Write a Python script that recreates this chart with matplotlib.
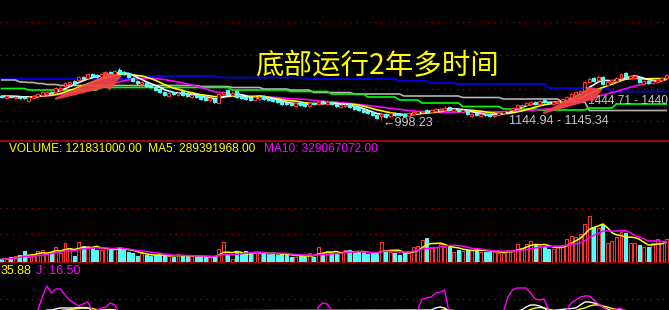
import numpy as np
import pandas as pd
import matplotlib
matplotlib.use("Agg")
import matplotlib.pyplot as plt
from matplotlib.patches import Rectangle, Polygon
from matplotlib.transforms import IdentityTransform

# ---------------------------------------------------------
# DATA (one value per trading day)
# ---------------------------------------------------------
opens = [
    1245, 1225, 1240, 1225, 1235, 1230, 1195, 1225, 1245, 1255,
    1265, 1285, 1285, 1305, 1340, 1360, 1395, 1400, 1430, 1425,
    1465, 1450, 1435, 1445, 1485, 1465, 1505, 1480, 1470, 1420,
    1395, 1360, 1370, 1350, 1330, 1315, 1285, 1245, 1280, 1250,
    1290, 1260, 1230, 1255, 1245, 1230, 1200, 1215, 1170, 1260,
    1300, 1255, 1295, 1245, 1230, 1220, 1205, 1215, 1240, 1225,
    1210, 1200, 1190, 1175, 1170, 1145, 1180, 1165, 1140, 1175,
    1160, 1195, 1160, 1185, 1165, 1130, 1140, 1165, 1140, 1125,
    1110, 1095, 1080, 1055, 1040, 1065, 1040, 1075, 1065, 1060,
    1045, 1065, 1075, 1080, 1100, 1080, 1095, 1100, 1105, 1130,
    1095, 1115, 1080, 1100, 1045, 1070, 1045, 1065, 1060, 1040,
    1055, 1070, 1090, 1105, 1125, 1140, 1150, 1165, 1185, 1165,
    1200, 1185, 1165, 1180, 1190, 1205, 1235, 1255, 1275, 1290,
    1380, 1420, 1400, 1435, 1350, 1380, 1395, 1425, 1470, 1425,
    1420, 1420, 1360, 1395, 1370, 1385, 1400, 1425,
]
closes = [
    1235, 1240, 1230, 1235, 1225, 1220, 1230, 1245, 1260, 1280,
    1280, 1270, 1320, 1325, 1370, 1380, 1370, 1430, 1410, 1460,
    1440, 1430, 1460, 1480, 1465, 1490, 1475, 1460, 1430, 1390,
    1370, 1380, 1340, 1335, 1305, 1280, 1255, 1275, 1260, 1275,
    1255, 1240, 1255, 1230, 1215, 1205, 1220, 1180, 1260, 1280,
    1265, 1275, 1230, 1220, 1210, 1200, 1230, 1235, 1210, 1200,
    1190, 1180, 1165, 1160, 1150, 1170, 1155, 1145, 1170, 1160,
    1185, 1170, 1180, 1160, 1140, 1150, 1155, 1130, 1110, 1100,
    1080, 1070, 1050, 1025, 1060, 1035, 1070, 1055, 1050, 1045,
    1070, 1080, 1090, 1095, 1085, 1100, 1110, 1115, 1125, 1100,
    1110, 1090, 1100, 1065, 1060, 1050, 1060, 1050, 1045, 1055,
    1070, 1090, 1110, 1125, 1150, 1155, 1170, 1180, 1165, 1190,
    1180, 1170, 1180, 1195, 1210, 1235, 1265, 1280, 1295, 1380,
    1415, 1390, 1430, 1360, 1380, 1400, 1425, 1460, 1435, 1440,
    1445, 1380, 1390, 1370, 1395, 1400, 1420, 1455,
]
highs = [
    1255, 1250, 1250, 1245, 1245, 1240, 1240, 1255, 1270, 1290,
    1295, 1295, 1330, 1340, 1380, 1395, 1405, 1440, 1440, 1470,
    1475, 1460, 1470, 1490, 1495, 1500, 1520, 1490, 1480, 1430,
    1400, 1395, 1380, 1360, 1340, 1320, 1295, 1290, 1290, 1285,
    1300, 1270, 1265, 1260, 1250, 1240, 1230, 1225, 1275, 1290,
    1305, 1290, 1300, 1255, 1240, 1230, 1245, 1245, 1250, 1235,
    1220, 1210, 1195, 1185, 1175, 1180, 1190, 1175, 1180, 1185,
    1200, 1200, 1195, 1195, 1175, 1160, 1165, 1170, 1150, 1130,
    1120, 1105, 1090, 1060, 1070, 1075, 1080, 1085, 1075, 1070,
    1080, 1090, 1100, 1105, 1110, 1110, 1120, 1125, 1140, 1135,
    1120, 1120, 1110, 1105, 1070, 1075, 1070, 1070, 1065, 1065,
    1080, 1095, 1115, 1135, 1160, 1165, 1180, 1190, 1195, 1200,
    1210, 1195, 1190, 1205, 1220, 1245, 1275, 1290, 1305, 1395,
    1430, 1430, 1450, 1445, 1395, 1410, 1435, 1470, 1480, 1450,
    1455, 1430, 1400, 1405, 1400, 1410, 1430, 1465,
]
lows = [
    1225, 1215, 1220, 1215, 1215, 1210, 1185, 1215, 1235, 1245,
    1255, 1260, 1275, 1295, 1330, 1350, 1360, 1390, 1400, 1415,
    1430, 1420, 1425, 1435, 1455, 1455, 1465, 1450, 1420, 1380,
    1355, 1350, 1330, 1325, 1295, 1270, 1245, 1235, 1250, 1240,
    1245, 1230, 1220, 1220, 1205, 1195, 1190, 1170, 1160, 1250,
    1255, 1245, 1220, 1210, 1200, 1190, 1195, 1205, 1200, 1190,
    1180, 1170, 1155, 1150, 1140, 1135, 1145, 1135, 1130, 1150,
    1150, 1160, 1150, 1150, 1130, 1120, 1130, 1120, 1100, 1090,
    1070, 1060, 1040, 1015, 998.23, 1025, 1030, 1045, 1040, 1035,
    1035, 1055, 1065, 1070, 1075, 1070, 1085, 1090, 1095, 1090,
    1085, 1080, 1070, 1055, 1035, 1040, 1035, 1040, 1035, 1030,
    1045, 1060, 1080, 1095, 1115, 1130, 1140, 1155, 1155, 1155,
    1170, 1160, 1155, 1170, 1180, 1195, 1225, 1245, 1265, 1280,
    1370, 1380, 1390, 1350, 1340, 1370, 1385, 1415, 1425, 1415,
    1410, 1370, 1350, 1360, 1360, 1375, 1390, 1415,
]
# volume, millions of shares
volumes = [
    18, 18, 30, 39, 45, 72, 35, 45, 72, 78,
    57, 67, 96, 60, 122, 89, 39, 128, 104, 104,
    96, 78, 78, 89, 78, 83, 96, 78, 67, 57,
    39, 57, 45, 39, 45, 45, 39, 39, 35, 52,
    39, 39, 39, 30, 35, 35, 35, 30, 83, 128,
    45, 18, 67, 57, 72, 57, 60, 57, 57, 52,
    57, 45, 52, 45, 35, 35, 39, 35, 57, 35,
    96, 60, 72, 57, 57, 57, 78, 78, 60, 67,
    57, 52, 52, 52, 128, 78, 67, 60, 45, 60,
    60, 96, 104, 143, 158, 99, 99, 117, 99, 99,
    67, 78, 73, 78, 78, 83, 67, 67, 67, 67,
    60, 57, 78, 78, 117, 89, 117, 138, 110, 106,
    99, 83, 83, 99, 110, 148, 169, 164, 180, 247,
    299, 229, 219, 240, 125, 138, 161, 197, 187, 125,
    125, 110, 99, 99, 125, 148, 122, 148,
]
# long moving averages drawn as (value, number of days) plateaus
ma60_runs = [(1315, 6), (1300, 16), (1325, 29), (1300, 13), (1285, 9), (1260, 8),
             (1230, 7), (1200, 5), (1170, 9), (1135, 9), (1110, 8), (1100, 11),
             (1120, 6), (1160, 12)]
ma120_runs = [(1400, 4), (1380, 2), (1375, 2), (1365, 2), (1355, 3), (1345, 31),
              (1335, 7), (1325, 7), (1310, 6), (1300, 5), (1275, 9), (1260, 11),
              (1240, 13), (1225, 9), (1210, 13), (1180, 6), (1095, 18)]
ma250_runs = [(1410, 30), (1440, 18), (1425, 20), (1410, 20), (1390, 7), (1370, 6),
              (1360, 20), (1320, 14), (1285, 13)]

kdj_k = [
    45, 42, 38, 36, 37, 36, 38, 42, 48, 54,
    58, 58, 60, 62, 62, 62, 62, 63, 63, 62,
    58, 55, 55, 56, 58, 58, 54, 48, 40, 32,
    25, 22, 18, 16, 13, 10, 8, 10, 11, 14,
    14, 13, 15, 13, 11, 9, 10, 8, 18, 28,
    32, 36, 34, 30, 26, 22, 24, 26, 24, 21,
    18, 15, 12, 10, 8, 11, 11, 10, 15, 17,
    35, 45, 50, 50, 46, 46, 46, 41, 34, 28,
    22, 17, 12, 8, 10, 10, 16, 19, 21, 23,
    28, 34, 40, 50, 56, 58, 62, 64, 62, 55,
    55, 50, 48, 40, 35, 30, 28, 26, 24, 25,
    29, 38, 50, 56, 56, 58, 64, 68, 68, 66,
    62, 55, 52, 50, 50, 52, 56, 62, 68, 74,
    74, 72, 70, 64, 60, 56, 55, 57, 53, 50,
    47, 40, 36, 33, 31, 30, 29.5, 29.4,
]
kdj_d = [
    50, 48, 46, 44, 42, 41, 40, 40, 42, 46,
    50, 53, 55, 57, 58, 59, 60, 61, 62, 62,
    61, 59, 58, 59, 59, 58, 55, 53, 49, 45,
    40, 36, 32, 28, 24, 20, 17, 15, 14, 14,
    14, 14, 14, 14, 13, 12, 11, 10, 13, 18,
    22, 27, 29, 29, 28, 26, 25, 25, 25, 24,
    22, 20, 17, 15, 13, 12, 12, 11, 12, 14,
    21, 29, 36, 41, 43, 44, 45, 44, 41, 37,
    32, 27, 22, 17, 15, 13, 14, 16, 18, 20,
    23, 27, 31, 37, 43, 48, 53, 57, 59, 58,
    57, 55, 52, 48, 44, 39, 35, 32, 29, 28,
    28, 31, 37, 43, 48, 51, 55, 59, 62, 63,
    62, 60, 57, 55, 53, 53, 54, 57, 60, 62,
    66, 68, 68, 66, 64, 61, 59, 58, 57, 55,
    55, 53, 50, 47, 44, 41, 38, 35.88,
]
kdj_j = [
    40, 35, 30, 28, 32, 30, 38, 48, 58, 85,
    106, 92, 100, 100, 88, 78, 72, 66, 70, 74,
    58, 48, 56, 64, 72, 68, 52, 40, 25, 10,
    5, 12, 8, 10, 5, 3, 0, 15, 12, 22,
    15, 10, 18, 10, 5, 2, 12, 0, 35, 50,
    45, 48, 30, 22, 15, 10, 25, 30, 20, 14,
    10, 6, 2, 0, -2, 15, 10, 8, 25, 22,
    64, 72, 70, 58, 40, 45, 48, 30, 18, 12,
    6, 2, -5, -8, 15, 10, 28, 25, 24, 26,
    40, 48, 58, 80, 82, 84, 92, 94, 98, 50,
    55, 40, 45, 22, 20, 15, 22, 18, 15, 25,
    38, 55, 84, 98, 102, 102, 102, 92, 80, 78,
    80, 58, 50, 48, 52, 58, 72, 78, 84, 86,
    86, 78, 70, 64, 58, 52, 56, 62, 50, 45,
    42, 22, 20, 14, 12, 14, 15, 16.5,
]

TITLE = "底部运行2年多时间"
LOW_LABEL = "←998.23"
MID_LABEL = "1144.94 - 1145.34"
HIGH_LABEL = "1444.71 - 1440"

# ---------------------------------------------------------
# COLOURS / HELPERS
# ---------------------------------------------------------
RED = "#ff3232"
CYAN = "#54fcfc"
GRID = "#b00000"
LABEL_FONT = ["Liberation Sans", "DejaVu Sans"]

W, H = 669, 310
fig = plt.figure(figsize=(W / 100, H / 100), dpi=100, facecolor="black")


def px_axes(top, bottom):
    ax = fig.add_axes([0, 1 - bottom / H, 1, (bottom - top) / H])
    ax.set_facecolor("black")
    ax.set_xlim(-0.38, 147.62)
    ax.set_xticks([])
    ax.set_yticks([])
    for s in ax.spines.values():
        s.set_visible(False)
    return ax


def expand(runs):
    out = []
    for v, n in runs:
        out += [v] * n
    return out


def dotted(ax, y):
    ax.axhline(y, color=GRID, lw=0.9, ls=(0, (1, 4)), zorder=1)


n = len(closes)
x = np.arange(n)
o = np.array(opens, float)
c = np.array(closes, float)
up = c >= o
body_w = 0.66

# ---------------------------------------------------------
# PRICE PANEL
# ---------------------------------------------------------
ax_p = px_axes(0, 140)
ax_p.set_ylim(800, 2200)
for y in (1980, 1650, 1310, 990):
    dotted(ax_p, y)

close_s = pd.Series(closes, dtype=float)
ax_p.plot(x, expand(ma250_runs), color="#0000ff", lw=1.2, zorder=3)
ax_p.plot(x, expand(ma120_runs), color="#b4b4b4", lw=1.2, zorder=3)
ax_p.plot(x, expand(ma60_runs), color="#00ff00", lw=1.2, zorder=3)
ax_p.plot(x, close_s.rolling(20, min_periods=1).mean(), color="#ff00ff", lw=1.2, zorder=3)
ax_p.plot(x, close_s.rolling(10, min_periods=1).mean(), color="#ffff00", lw=1.2, zorder=3)
ax_p.plot(x, close_s.rolling(5, min_periods=1).mean(), color="#ffffff", lw=1.2, zorder=3)

for i in range(n):
    col = RED if up[i] else CYAN
    ax_p.vlines(i, lows[i], highs[i], color=col, lw=0.9, zorder=4)
    lo, hi = min(o[i], c[i]), max(o[i], c[i])
    if hi - lo < 6:
        hi = lo + 6
    ax_p.add_patch(Rectangle((i - body_w / 2, lo), body_w, hi - lo,
                             facecolor="black" if up[i] else CYAN,
                             edgecolor=col, lw=0.8, zorder=5))

ax_p.text(84.3, 965, LOW_LABEL, color="#c8c8c8", fontsize=9, family=LABEL_FONT,
          va="center", ha="left", zorder=6)
ax_p.text(112.2, 990, MID_LABEL, color="#c8c8c8", fontsize=9, family=LABEL_FONT,
          va="center", ha="left", zorder=6)
ax_p.text(129.6, 1185, HIGH_LABEL, color="#c8c8c8", fontsize=8.6, family=LABEL_FONT,
          va="center", ha="left", zorder=6)

# ---------------------------------------------------------
# VOLUME PANEL
# ---------------------------------------------------------
ax_v = px_axes(141, 262)
ax_v.set_ylim(0, 786)
for s in ("top", "bottom"):
    ax_v.spines[s].set_visible(True)
    ax_v.spines[s].set_color("#d00000")
    ax_v.spines[s].set_linewidth(1.1)
for y in (182, 351):
    dotted(ax_v, y)

for i in range(n):
    col = RED if up[i] else CYAN
    ax_v.add_patch(Rectangle((i - body_w / 2, 0), body_w, volumes[i],
                             facecolor="black" if up[i] else CYAN,
                             edgecolor=col, lw=0.8, zorder=3))
vol_s = pd.Series(volumes, dtype=float)
ax_v.plot(x, vol_s.rolling(5, min_periods=1).mean(), color="#ffff00", lw=1.1, zorder=4)
ax_v.plot(x, vol_s.rolling(10, min_periods=1).mean(), color="#ff00ff", lw=1.1, zorder=4)

# ---------------------------------------------------------
# KDJ PANEL
# ---------------------------------------------------------
ax_k = px_axes(263, 310)
ax_k.set_ylim(58, 152)
dotted(ax_k, 80)
ax_k.plot(x, kdj_d, color="#ffff00", lw=1.0, zorder=3)
ax_k.plot(x, kdj_k, color="#ffffff", lw=1.0, zorder=3)
ax_k.plot(x, kdj_j, color="#ff00ff", lw=1.0, zorder=4)

# ---------------------------------------------------------
# TEXT + ARROWS
# ---------------------------------------------------------
fig.text(9 / W, 1 - 149 / H, "VOLUME: 121831000.00  MA5: 289391968.00",
         color="#ffff00", fontsize=8.6, family=LABEL_FONT, va="center")
fig.text(264 / W, 1 - 149 / H, "MA10: 329067072.00",
         color="#ff00ff", fontsize=8.6, family=LABEL_FONT, va="center")
fig.text(0.5 / W, 1 - 271 / H, "35.88", color="#ffff00", fontsize=9,
         family=LABEL_FONT, va="center")
fig.text(36 / W, 1 - 271 / H, "J: 16.50", color="#ff00ff", fontsize=9,
         family=LABEL_FONT, va="center")
fig.text(255 / W, 1 - 66 / H, TITLE, color="#ffff00", fontsize=20.5,
         family=["Noto Sans CJK SC", "DejaVu Sans"], va="center", ha="left")


def draw_arrow(ax, tail, tip, shaft=5, head=9, head_len=16):
    t = ax.transData.transform(tail)
    p = ax.transData.transform(tip)
    d = p - t
    u = d / np.hypot(*d)
    nv = np.array([-u[1], u[0]])
    base = p - u * head_len
    pts = [t + nv * 1, base + nv * shaft, base + nv * head, p,
           base - nv * head, base - nv * shaft, t - nv * 1]
    fig.add_artist(Polygon(pts, closed=True, transform=IdentityTransform(),
                           facecolor="#f54545", edgecolor="none", alpha=0.92, zorder=10))


draw_arrow(ax_p, (11.8, 1210), (26.6, 1440), shaft=6, head=10, head_len=17)
draw_arrow(ax_p, (119.8, 1070), (133.0, 1310), shaft=5.5, head=9, head_len=16)

fig.savefig("out.png", dpi=100, facecolor="black")
